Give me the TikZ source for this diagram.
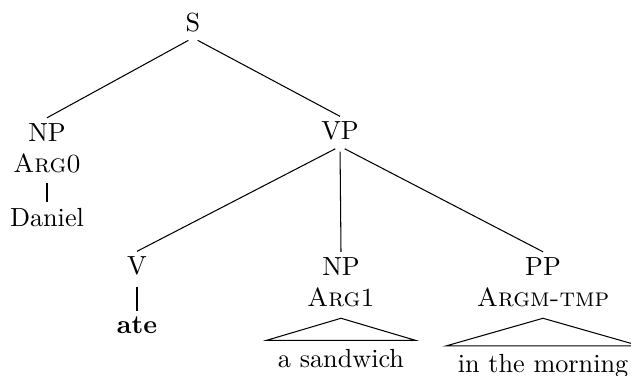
\documentclass[tikz,border=0pt]{standalone}
\begin{document}
\begin{tikzpicture}[x=0.3817pt,y=-0.3817pt,
  lab/.style={inner sep=2pt, align=center},
  branch/.style={draw, line width=0.4pt, shorten <=2pt},
  roofnode/.style={inner xsep=4.3pt, inner ysep=3pt},
  roof/.style={draw, line width=0.4pt}]
\useasboundingbox (0,0) rectangle (631,376);
% nodes
\node[lab,anchor=base] (s) at (193,31.5) {S};
\node[lab,anchor=north] (np1) at (47,117.8) {NP\\\textsc{Arg0}};
\node[lab,anchor=base] (vp) at (340,140) {VP};
\node[lab,anchor=base] (daniel) at (47,226) {Daniel};
\node[lab,anchor=base] (v) at (137,275) {V};
\node[lab,anchor=base] (ate) at (137,333) {\textbf{ate}};
\node[lab,anchor=north] (np2) at (341,251.8) {NP\\\textsc{Arg1}};
\node[lab,anchor=north] (pp) at (543,251.8) {PP\\\textsc{Argm-tmp}};
\node[roofnode,anchor=base] (sand) at (341,367) {a sandwich};
\node[roofnode,anchor=base] (morn) at (543,372.5) {in the morning};
% branches
\path[branch] (s.south) -- (np1.north);
\path[branch] (s.south) -- (vp.north);
\path[branch, shorten <=1.5pt] (np1.south) -- (daniel.north);
\path[branch] (vp.south) -- (v.north);
\path[branch] (vp.south) -- (np2.north);
\path[branch] (vp.south) -- (pp.north);
\path[branch] (v.south) -- (ate.north);
% roofs
\path[roof] ([yshift=-2pt]np2.south) -- (sand.north west) -- (sand.north east) -- cycle;
\path[roof] ([yshift=-2pt]pp.south) -- (morn.north west) -- (morn.north east) -- cycle;
\end{tikzpicture}
\end{document}
